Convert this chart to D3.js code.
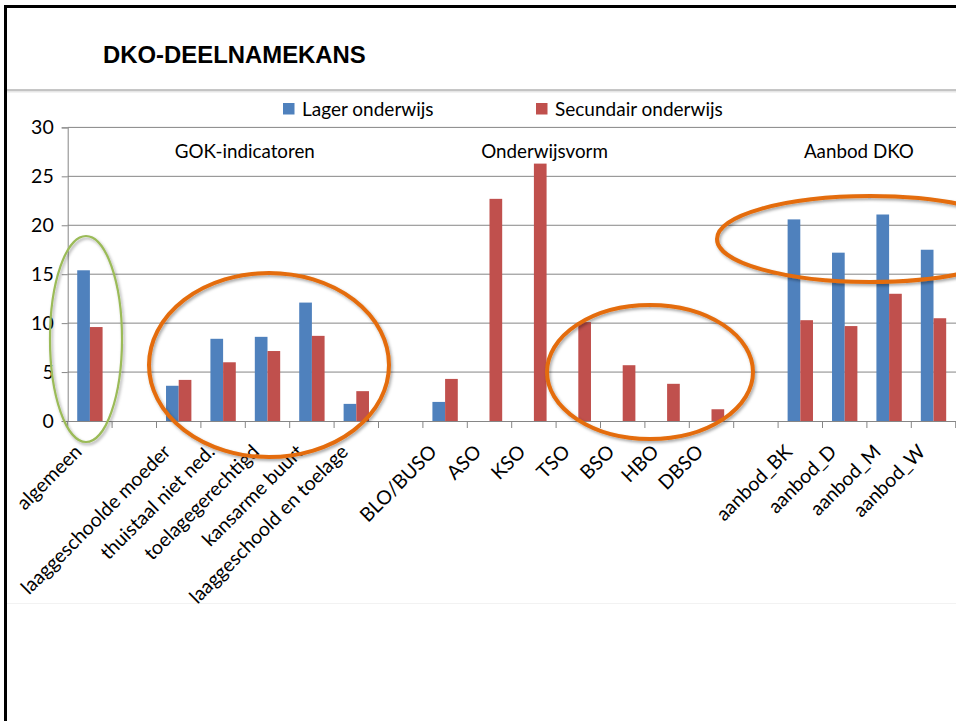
<!DOCTYPE html>
<html>
<head>
<meta charset="utf-8">
<script src="https://cdn.jsdelivr.net/npm/d3@7"></script>
<style>
  html, body { margin: 0; padding: 0; background: #fff; }
  svg { display: block; }
</style>
</head>
<body>
<script>
// ---- data ----
const title = "DKO-DEELNAMEKANS";
const categories = ["algemeen", "", "laaggeschoolde moeder", "thuistaal niet ned.", "toelagegerechtigd",
  "kansarme buurt", "laaggeschoold en toelage", "", "BLO/BUSO", "ASO", "KSO", "TSO", "BSO", "HBO", "DBSO", "",
  "aanbod_BK", "aanbod_D", "aanbod_M", "aanbod_W"];
const seriesNames = ["Lager onderwijs", "Secundair onderwijs"];
const lager = [15.4, null, 3.6, 8.4, 8.6, 12.1, 1.75, null, 1.95, null, null, null, null, null, null, null, 20.6, 17.2, 21.1, 17.5];
const secundair = [9.6, null, 4.2, 6.0, 7.15, 8.7, 3.05, null, 4.3, 22.7, 26.3, 10.1, 5.7, 3.8, 1.2, null, 10.3, 9.7, 13.0, 10.5];
const yTicks = [0, 5, 10, 15, 20, 25, 30];
const groupLabels = ["GOK-indicatoren", "Onderwijsvorm", "Aanbod DKO"];

const colors = ["#4F81BD", "#C0504D"];
const W = 956, H = 721;

const svg = d3.select("body").append("svg").attr("width", W).attr("height", H);
svg.append("rect").attr("width", W).attr("height", H).attr("fill", "#fff");

const defs = svg.append("defs");
const f = defs.append("filter").attr("id", "shadow").attr("x", "-20%").attr("y", "-20%").attr("width", "140%").attr("height", "140%");
f.append("feDropShadow").attr("dx", 1.5).attr("dy", 2).attr("stdDeviation", 1.5).attr("flood-color", "#000").attr("flood-opacity", 0.35);

// frame
svg.append("line").attr("x1", 5.5).attr("x2", 5.5).attr("y1", 5).attr("y2", H).attr("stroke", "#000").attr("stroke-width", 3);
svg.append("line").attr("x1", 4).attr("x2", W).attr("y1", 6.5).attr("y2", 6.5).attr("stroke", "#000").attr("stroke-width", 3);
// title separator
svg.append("line").attr("x1", 7).attr("x2", W).attr("y1", 91.5).attr("y2", 91.5).attr("stroke", "#e6e6e6").attr("stroke-width", 2);
svg.append("line").attr("x1", 7).attr("x2", W).attr("y1", 90).attr("y2", 90).attr("stroke", "#b3b3b3").attr("stroke-width", 1.5);
// faint chart-area bottom
svg.append("line").attr("x1", 7).attr("x2", W).attr("y1", 603.5).attr("y2", 603.5).attr("stroke", "#f2f2f2").attr("stroke-width", 1);

svg.append("text").attr("x", 103).attr("y", 63)
  .attr("font-family", "'Liberation Sans', Arial, sans-serif").attr("font-weight", "bold")
  .attr("font-size", 23.9).attr("fill", "#000").text(title);

// ---- scales ----
const x0 = 67.7, step = 44.4;
const x = d3.scaleBand().domain(d3.range(categories.length)).range([x0, x0 + step * categories.length]).padding(0);
const xs = d3.scaleBand().domain([0, 1]).range([0, x.bandwidth()]).paddingInner(0).paddingOuter(0.75);
const y = d3.scaleLinear().domain([0, 30]).range([421, 127.4]);

const font = "Lato, 'Open Sans', sans-serif";
const gridCol = "#868686";

// gridlines + y axis
const yAxis = d3.axisLeft(y).tickValues(yTicks).tickSize(6).tickPadding(8);
const gy = svg.append("g").attr("transform", `translate(${x0},0)`).call(yAxis);
gy.select(".domain").attr("stroke", gridCol);
gy.selectAll(".tick line").attr("stroke", gridCol);
gy.selectAll(".tick text").attr("font-family", font).attr("font-size", 19.5).attr("fill", "#000");
svg.append("g").selectAll("line").data(yTicks.filter(d => d > 0)).join("line")
  .attr("x1", x0).attr("x2", W).attr("y1", d => y(d)).attr("y2", d => y(d))
  .attr("stroke", gridCol).attr("stroke-width", 1);

// bars
const seriesData = [lager, secundair];
seriesData.forEach((vals, si) => {
  svg.append("g").selectAll("rect")
    .data(vals.map((v, i) => ({ i, v })).filter(d => d.v != null))
    .join("rect")
    .attr("x", d => x(d.i) + xs(si))
    .attr("width", xs.bandwidth())
    .attr("y", d => y(d.v))
    .attr("height", d => y(0) - y(d.v))
    .attr("fill", colors[si]);
});

// x axis
const xAxis = d3.axisBottom(x).tickSize(0).tickFormat("");
const gx = svg.append("g").attr("transform", `translate(0,${y(0)})`).call(xAxis);
gx.select(".domain").attr("stroke", gridCol);
svg.append("g").selectAll("line").data(d3.range(categories.length + 1)).join("line")
  .attr("x1", d => x0 + d * step).attr("x2", d => x0 + d * step)
  .attr("y1", y(0)).attr("y2", y(0) + 7).attr("stroke", gridCol);

// x labels
svg.append("g").selectAll("text").data(categories.map((c, i) => ({ c, i })).filter(d => d.c))
  .join("text")
  .attr("transform", d => `translate(${x(d.i) + x.bandwidth() / 2 - 7},${y(0) + 32}) rotate(-45)`)
  .attr("text-anchor", "end")
  .attr("font-family", font).attr("font-size", 19.5).attr("fill", "#000")
  .text(d => d.c);

// group labels (text boxes)
const groupCenters = [3.99, 10.74, 17.82];
svg.append("g").selectAll("text").data(groupLabels).join("text")
  .attr("x", (d, i) => x0 + groupCenters[i] * step)
  .attr("y", 158)
  .attr("text-anchor", "middle")
  .attr("font-family", font).attr("font-size", 18.8).attr("fill", "#000")
  .text(d => d);

// legend
const legX = [283, 536];
const lg = svg.append("g").selectAll("g").data(seriesNames).join("g")
  .attr("transform", (d, i) => `translate(${legX[i]},103)`);
lg.append("rect").attr("width", 11.5).attr("height", 11.5).attr("fill", (d, i) => colors[i]);
lg.append("text").attr("x", 19).attr("y", 12.5)
  .attr("font-family", font).attr("font-size", 19).attr("fill", "#000").text(d => d);

// annotation ellipses
const ell = svg.append("g").attr("fill", "none").attr("filter", "url(#shadow)");
ell.append("ellipse").attr("cx", 86).attr("cy", 339).attr("rx", 36).attr("ry", 103)
  .attr("stroke", "#9BBB59").attr("stroke-width", 2.2);
ell.append("ellipse").attr("cx", 269).attr("cy", 365).attr("rx", 120).attr("ry", 92)
  .attr("stroke", "#E46C0A").attr("stroke-width", 4);
ell.append("ellipse").attr("cx", 650).attr("cy", 372).attr("rx", 103).attr("ry", 67)
  .attr("stroke", "#E46C0A").attr("stroke-width", 4);
ell.append("ellipse").attr("cx", 870).attr("cy", 239).attr("rx", 153).attr("ry", 43)
  .attr("stroke", "#E46C0A").attr("stroke-width", 4);
</script>
</body>
</html>
